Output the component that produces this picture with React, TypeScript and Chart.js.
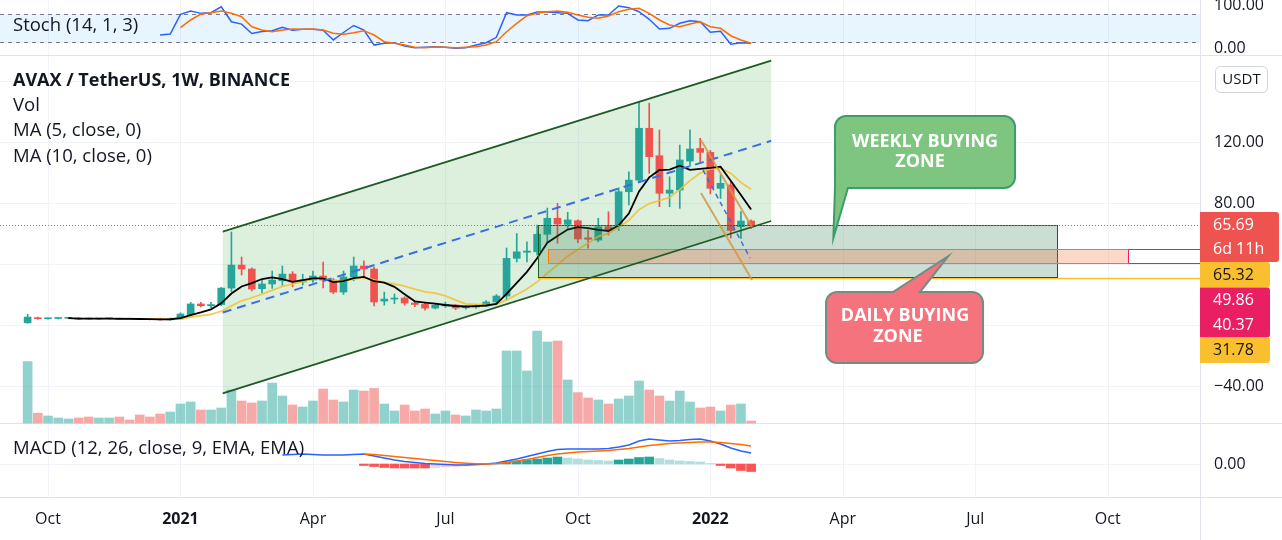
import React, { useEffect, useRef } from "react";
import { Chart, registerables } from "chart.js";

Chart.register(...registerables);

const FONT = '"Open Sans", "Noto Sans", "DejaVu Sans", sans-serif';
const TEXT = "#131722";
const UP = "#26a69a";
const DOWN = "#ef5350";

// ---------- weekly bars, index 0 = week of 21 Sep 2020 ----------
const opens = [
  1.4, 4.8, 4.1, 4.3, 4.4, 4.6, 4.2, 3.9, 4.1, 4.3,
  4.1, 4.0, 3.9, 4.2, 3.4, 4.0, 6.8, 13.8, 12.6, 13.4,
  24.2, 39.3, 36.7, 23.8, 26.9, 29.0, 33.4, 28.2, 29.5, 32.1,
  29.5, 21.6, 31.5, 38.7, 36.7, 15.7, 17.0, 17.7, 14.4, 13.5,
  11.1, 12.5, 13.1, 11.3, 11.8, 12.5, 15.1, 19.0, 43.7, 47.7,
  48.0, 59.5, 70.0, 66.0, 68.4, 57.2, 55.7, 64.5, 65.0, 87.4,
  95.0, 129.0, 111.0, 86.4, 88.5, 107.5, 115.8, 113.2, 89.6, 91.8,
  64.5, 68.2,
];
const highs = [
  7.0, 5.2, 4.6, 4.7, 4.8, 4.9, 4.5, 4.3, 4.4, 4.6,
  4.3, 4.3, 4.2, 4.5, 4.6, 8.0, 14.8, 14.8, 14.9, 24.6,
  61.0, 44.6, 37.5, 30.0, 35.4, 38.7, 35.0, 33.3, 35.4, 41.3,
  30.5, 35.4, 44.6, 42.0, 38.0, 21.6, 20.3, 18.5, 15.5, 14.4,
  14.0, 15.0, 13.6, 12.5, 13.5, 16.0, 20.0, 50.5, 60.0, 54.6,
  65.6, 76.7, 79.8, 73.9, 69.0, 62.3, 70.0, 74.3, 90.0, 100.5,
  146.4, 145.4, 127.9, 97.2, 118.0, 127.9, 122.4, 114.5, 98.4, 94.0,
  74.3, 69.0,
];
const lows = [
  1.2, 3.8, 3.8, 4.0, 4.1, 3.6, 3.7, 3.7, 3.8, 3.7,
  3.6, 3.5, 3.4, 3.1, 3.2, 3.8, 6.3, 11.8, 11.4, 12.6,
  22.0, 32.8, 22.3, 21.0, 24.0, 26.0, 25.0, 26.2, 28.0, 24.3,
  20.5, 20.0, 29.0, 31.5, 12.5, 13.0, 14.0, 13.0, 12.0, 9.8,
  10.5, 11.5, 10.0, 10.4, 10.8, 12.0, 14.0, 16.4, 41.3, 41.3,
  45.9, 54.6, 53.6, 63.4, 54.0, 50.3, 54.6, 59.0, 62.0, 78.7,
  94.0, 99.5, 77.6, 77.6, 76.5, 104.0, 107.0, 86.0, 83.0, 57.0,
  56.8, 63.4,
];
const closes = [
  5.2, 4.1, 4.3, 4.4, 4.5, 3.9, 3.9, 4.1, 4.2, 3.9,
  3.8, 3.7, 3.6, 3.4, 4.4, 7.2, 13.8, 12.6, 13.4, 24.2,
  39.3, 36.7, 23.6, 26.9, 29.5, 33.4, 28.2, 29.5, 32.1, 29.5,
  21.6, 31.5, 38.7, 36.7, 15.1, 17.0, 17.7, 14.4, 13.5, 11.1,
  13.1, 13.5, 11.1, 11.8, 12.5, 15.1, 19.0, 43.7, 48.0, 48.5,
  59.5, 70.0, 66.2, 68.9, 56.4, 56.2, 64.4, 62.3, 87.4, 95.0,
  129.0, 110.4, 86.4, 88.5, 108.2, 115.4, 113.2, 89.6, 92.9, 62.0,
  68.2, 65.69,
];
const volumes = [
  30.7, 4.9, 3.5, 2.5, 2.0, 2.5, 3.0, 2.5, 2.5, 3.0,
  1.5, 4.0, 3.0, 4.5, 5.5, 9.5, 10.5, 6.5, 6.5, 7.5,
  16.5, 11.0, 10.0, 11.0, 20.0, 13.5, 9.0, 8.0, 11.0, 17.0,
  11.5, 10.5, 16.5, 16.0, 17.3, 9.5, 6.0, 9.0, 6.0, 7.0,
  4.5, 6.0, 4.0, 3.5, 6.5, 6.0, 7.0, 36.0, 36.0, 26.0,
  46.0, 40.5, 41.0, 21.5, 15.2, 12.5, 11.5, 9.5, 12.0, 13.5,
  21.0, 16.5, 13.5, 11.0, 16.0, 10.5, 7.5, 8.0, 6.0, 9.0,
  9.5, 1.0,
];

// ---------- Stoch (14, 1, 3) ----------
const stochKStart = 13;
const stochK = [
  35.6, 37.8, 80, 87, 82, 83.4, 96, 64, 59, 39,
  43, 45, 52, 46, 48, 48, 46, 25, 41, 56,
  46, 14, 18, 19, 12, 8.4, 9.3, 10.6, 9.3, 7.1,
  8.4, 14.2, 19.1, 30.7, 83.4, 78.6, 78.6, 85, 85, 83.4,
  82, 67.8, 66.3, 78.6, 78.6, 97.8, 94.2, 85.6, 69.3, 48.5,
  50, 60.7, 66.3, 64.1, 41.4, 43.6, 15.7, 19.1, 17.8,
];
const stochDStart = 15;
const stochD = [
  51.3, 67.8, 80.6, 83.4, 87.1, 82.1, 74.9, 53.4, 46.4, 42.7,
  46.4, 48.5, 47.9, 48.5, 46.4, 39.3, 37.1, 40.6, 44.9, 35.6,
  21.3, 17.9, 14.2, 9.5, 8.4, 9.9, 9.3, 8.4, 9.3, 10.6,
  14.2, 21.3, 42.7, 60.7, 77, 82.1, 85.6, 87.1, 84.3, 78.5,
  73.6, 71.4, 76.4, 85.6, 90.7, 92.9, 82.1, 67.8, 57.1, 53.4,
  59.2, 64.1, 53.4, 50, 34.1, 24.9, 17.8,
];

// ---------- MACD (12, 26, close, 9) ----------
const macdStart = 25;
const macdLine = [
  9, 9.5, 10, 9.5, 9, 9, 9, 9.5, 10, 8,
  6, 4, 2.5, 1.5, 0.5, 0, -0.5, -1, -1, -0.5,
  0, 1, 3, 5, 7.5, 10, 12.5, 14.5, 15, 15,
  15, 15, 15.5, 17, 19, 23, 25, 24, 23, 23.5,
  24.5, 25, 23, 20, 16, 13, 11,
];
const signalStart = 33;
const signalLine = [
  10, 9.5, 8.5, 7.5, 6.5, 5.5, 4.5, 3.5, 2.5, 1.5,
  0.8, 0.3, 0, 0.5, 1.5, 3, 4.5, 6.5, 8.5, 10,
  11, 12, 12.5, 13, 13.5, 14.5, 15.5, 17, 18.5, 19.5,
  20.5, 21, 21.5, 22, 22, 21.5, 20.5, 19.5, 18,
];
const histStart = 33;
const macdHist = [
  -1.5, -2.5, -3.5, -4, -4, -4, -4, -3.5, -3, -2.5,
  -2, -1.5, -1, 0.5, 2, 3, 4, 5, 6, 7,
  6, 5, 4, 3.5, 3, 4, 5, 6.5, 7, 5.5,
  4, 3, 2.5, 2, 0.5, -1.5, -4, -6.5, -7.5,
];

// ---------- axes ----------
const timeTicks = [2, 15, 28, 41, 54, 67, 80, 93, 106];
const timeLabels = ["Oct", "2021", "Apr", "Jul", "Oct", "2022", "Apr", "Jul", "Oct"];
const yearLabels = ["2021", "2022"];
const priceGrid = [160, 120, 80, 40, 0, -40];
const priceTicks = [120, 80, -40];
const stochTicks = [100, 0];
const macdTicks = [0];

// ---------- levels / drawings (bar index, price) ----------
const lastPrice = 65.69;
const barCountdown = "6d 11h";
const weeklyZone = { x1: 50.09, x2: 101.0, top: 65.32, bottom: 31.78 };
const dailyZone = { x1: 51.07, x2: 108.0, top: 49.86, bottom: 40.37 };
const orangeLevelStart = 38.5;
const channelUpper = [[19.15, 61.2], [72.97, 173.4]];
const channelLower = [[19.15, -44.8], [72.97, 68.2]];
const channelMid = [[19.15, 8.2], [72.97, 120.8]];
const fallUpper = [[66.08, 121.3], [71.09, 64.3]];
const fallLower = [[66.08, 86.6], [71.09, 29.5]];
const fallMid = [[66.28, 101.6], [70.9, 43.9]];

const weeklyCallout = {
  box: [79.23, 96.9, 137.0, 89.8],
  tail: [79.23, 80.5, 79.07, 57.0],
  lines: [["WEEKLY BUYING", 88.07, 120.2], ["ZONE", 87.58, 107.1]],
};
const dailyCallout = {
  box: [78.35, 93.76, 21.6, -24.9],
  tail: [84.92, 87.57, 90.35, 45.2],
  lines: [["DAILY BUYING", 86.1, 5.9], ["ZONE", 85.4, -7.9]],
};

// ---------- helpers ----------
const idx = opens.map((_, i) => i);
const isUp = (i: number) => closes[i] >= opens[i];
const candleColors = idx.map((i) => (isUp(i) ? UP : DOWN));
const volColors = idx.map((i) => (isUp(i) ? "rgba(38,166,154,0.5)" : "rgba(239,83,80,0.5)"));
const histColors = macdHist.map((v, k) => {
  const prev = k > 0 ? macdHist[k - 1] : v;
  if (v >= 0) return v > prev ? "#26a69a" : "#b2dfdb";
  return v <= prev ? "#ff5252" : "#ffcdd2";
});

function sma(src: number[], n: number) {
  const out: { x: number; y: number }[] = [];
  for (let i = n - 1; i < src.length; i++) {
    let s = 0;
    for (let k = i - n + 1; k <= i; k++) s += src[k];
    out.push({ x: i, y: s / n });
  }
  return out;
}
const series = (arr: number[], start: number) => arr.map((v, k) => ({ x: start + k, y: v }));

function seg(ctx: CanvasRenderingContext2D, x1: number, y1: number, x2: number, y2: number, color: string, width = 1, dash: number[] = []) {
  ctx.save();
  ctx.beginPath();
  ctx.strokeStyle = color;
  ctx.lineWidth = width;
  ctx.setLineDash(dash);
  ctx.moveTo(x1, y1);
  ctx.lineTo(x2, y2);
  ctx.stroke();
  ctx.restore();
}

function calloutPath(ctx: CanvasRenderingContext2D, L: number, R: number, T: number, B: number, r: number, b1: number, b2: number, tx: number, ty: number, top: boolean) {
  ctx.beginPath();
  if (top) {
    ctx.moveTo(L + r, T);
    ctx.lineTo(b1, T);
    ctx.lineTo(tx, ty);
    ctx.lineTo(b2, T);
    ctx.lineTo(R - r, T);
    ctx.arcTo(R, T, R, T + r, r);
    ctx.lineTo(R, B - r);
    ctx.arcTo(R, B, R - r, B, r);
    ctx.lineTo(L + r, B);
    ctx.arcTo(L, B, L, B - r, r);
    ctx.lineTo(L, T + r);
    ctx.arcTo(L, T, L + r, T, r);
  } else {
    ctx.moveTo(L + r, T);
    ctx.lineTo(R - r, T);
    ctx.arcTo(R, T, R, T + r, r);
    ctx.lineTo(R, B - r);
    ctx.arcTo(R, B, R - r, B, r);
    ctx.lineTo(b2, B);
    ctx.lineTo(tx, ty);
    ctx.lineTo(b1, B);
    if (b1 > L + r) {
      ctx.lineTo(L + r, B);
      ctx.arcTo(L, B, L, B - r, r);
    }
    ctx.lineTo(L, T + r);
    ctx.arcTo(L, T, L + r, T, r);
  }
  ctx.closePath();
}

const tvPlugin = {
  id: "tvPanes",
  beforeDraw(chart: any) {
    const ctx = chart.ctx;
    ctx.save();
    ctx.fillStyle = "#ffffff";
    ctx.fillRect(0, 0, chart.width, chart.height);
    ctx.restore();
  },
  beforeDatasetsDraw(chart: any) {
    const { ctx, chartArea: a, scales } = chart;
    const X = (v: number) => scales.x.getPixelForValue(v);
    const P = (v: number) => scales.yPrice.getPixelForValue(v);
    const S = (v: number) => scales.yStoch.getPixelForValue(v);
    const M = (v: number) => scales.yMacd.getPixelForValue(v);
    const grid = "#f0f3fa";
    timeTicks.forEach((t) => {
      const x = Math.round(X(t)) + 0.5;
      seg(ctx, x, a.top, x, a.bottom, grid);
    });
    priceGrid.forEach((v) => {
      const y = Math.round(P(v)) + 0.5;
      seg(ctx, a.left, y, a.right, y, grid);
    });
    macdTicks.forEach((v) => {
      const y = Math.round(M(v)) + 0.5;
      seg(ctx, a.left, y, a.right, y, grid);
    });
    // stoch band
    ctx.save();
    ctx.fillStyle = "rgba(33,150,243,0.1)";
    ctx.fillRect(a.left, S(80), a.right - a.left, S(20) - S(80));
    ctx.restore();
    seg(ctx, a.left, Math.round(S(80)) + 0.5, a.right, Math.round(S(80)) + 0.5, "#787b86", 1, [4, 4]);
    seg(ctx, a.left, Math.round(S(20)) + 0.5, a.right, Math.round(S(20)) + 0.5, "#787b86", 1, [4, 4]);
    // channel fill
    ctx.save();
    ctx.beginPath();
    ctx.moveTo(X(channelUpper[0][0]), P(channelUpper[0][1]));
    ctx.lineTo(X(channelUpper[1][0]), P(channelUpper[1][1]));
    ctx.lineTo(X(channelLower[1][0]), P(channelLower[1][1]));
    ctx.lineTo(X(channelLower[0][0]), P(channelLower[0][1]));
    ctx.closePath();
    ctx.fillStyle = "rgba(76,175,80,0.19)";
    ctx.fill();
    ctx.restore();
    // pane separators
    const sep = "#e0e3eb";
    [scales.yStoch.bottom, scales.yPrice.bottom, a.bottom].forEach((y: number) => {
      const yy = Math.round(y) + 0.5;
      seg(ctx, 0, yy, chart.width, yy, sep);
    });
    seg(ctx, Math.round(a.right) + 0.5, 0, Math.round(a.right) + 0.5, chart.height, sep);
  },
  afterDatasetsDraw(chart: any) {
    const { ctx, chartArea: a, scales } = chart;
    const X = (v: number) => scales.x.getPixelForValue(v);
    const P = (v: number) => scales.yPrice.getPixelForValue(v);
    const S = (v: number) => scales.yStoch.getPixelForValue(v);
    const M = (v: number) => scales.yMacd.getPixelForValue(v);

    // yellow level + weekly zone
    const yl = Math.round(P(weeklyZone.bottom)) + 0.5;
    seg(ctx, X(weeklyZone.x1), yl + 1, a.right, yl + 1, "#fbc02d", 1.5);
    ctx.save();
    const wx1 = Math.round(X(weeklyZone.x1)) + 0.5, wx2 = Math.round(X(weeklyZone.x2)) + 0.5;
    const wy1 = Math.round(P(weeklyZone.top)) + 0.5, wy2 = Math.round(P(weeklyZone.bottom)) + 0.5;
    ctx.fillStyle = "rgba(46,125,80,0.25)";
    ctx.fillRect(wx1, wy1, wx2 - wx1, wy2 - wy1);
    ctx.strokeStyle = "#1b5e20";
    ctx.lineWidth = 1;
    ctx.strokeRect(wx1, wy1, wx2 - wx1, wy2 - wy1);
    // daily zone
    const dx1 = Math.round(X(dailyZone.x1)) + 0.5, dx2 = Math.round(X(dailyZone.x2)) + 0.5;
    const dy1 = Math.round(P(dailyZone.top)) + 0.5, dy2 = Math.round(P(dailyZone.bottom)) + 0.5;
    ctx.fillStyle = "rgba(242,100,40,0.25)";
    ctx.fillRect(dx1, dy1, dx2 - dx1, dy2 - dy1);
    ctx.restore();
    seg(ctx, dx1, dy1, dx2, dy1, "#f57c00", 1.2);
    seg(ctx, dx1, dy2, dx2, dy2, "#f57c00", 1.2);
    seg(ctx, dx1, dy1, dx1, dy2, "#f57c00", 1);
    seg(ctx, dx2, dy1, dx2, dy2, "#e91e63", 1);
    seg(ctx, dx2, dy1, a.right, dy1, "#e91e63", 1);
    seg(ctx, dx2, dy2, a.right, dy2, "#e91e63", 1);
    // price lines
    const yo = Math.round(P(weeklyZone.top)) + 0.5;
    seg(ctx, X(orangeLevelStart), yo, a.right, yo, "#ff9800", 1, [1, 2]);
    const yr = Math.round(P(lastPrice)) + 0.5;
    seg(ctx, a.left, yr, a.right, yr, "#ef5350", 1, [1, 2]);

    // channel
    const line2 = (pts: number[][], color: string, w: number, dash: number[] = []) =>
      seg(ctx, X(pts[0][0]), P(pts[0][1]), X(pts[1][0]), P(pts[1][1]), color, w, dash);
    line2(channelUpper, "#1e5a24", 1.8);
    line2(channelLower, "#1e5a24", 1.8);
    line2(channelMid, "#3b6ee0", 2, [9, 6]);
    line2(fallUpper, "rgba(214,150,70,0.85)", 2);
    line2(fallLower, "rgba(214,150,70,0.85)", 2);
    line2(fallMid, "#3b6ee0", 1.5, [5, 4]);

    // callouts
    const drawCallout = (c: any, top: boolean, fill: string, stroke: string) => {
      const [l, r, t, b] = c.box;
      const [b1, b2, tx, ty] = c.tail;
      ctx.save();
      calloutPath(ctx, X(l), X(r), P(t), P(b), 11, X(b1), X(b2), X(tx), P(ty), top);
      ctx.fillStyle = fill;
      ctx.fill();
      ctx.lineWidth = 2;
      ctx.strokeStyle = stroke;
      ctx.stroke();
      ctx.fillStyle = "#ffffff";
      ctx.font = `bold 18px ${FONT}`;
      ctx.textAlign = "center";
      ctx.textBaseline = "middle";
      c.lines.forEach((ln: any) => ctx.fillText(ln[0], X(ln[1]), P(ln[2])));
      ctx.restore();
    };
    drawCallout(weeklyCallout, false, "#7ec67f", "#3e9b6a");
    drawCallout(dailyCallout, true, "#f5737c", "#6f8f86");

    // legends
    ctx.save();
    ctx.fillStyle = TEXT;
    ctx.textBaseline = "middle";
    ctx.textAlign = "left";
    ctx.font = `18.5px ${FONT}`;
    ctx.fillText("Stoch (14, 1, 3)", 13, 26);
    ctx.font = `bold 18px ${FONT}`;
    ctx.fillText("AVAX / TetherUS, 1W, BINANCE", 13, 81);
    ctx.font = `18.5px ${FONT}`;
    ctx.fillText("Vol", 13, 106);
    ctx.fillText("MA (5, close, 0)", 13, 131);
    ctx.fillText("MA (10, close, 0)", 13, 157);
    ctx.fillText("MACD (12, 26, close, 9, EMA, EMA)", 13, 449);

    // right axis ticks
    const ax = a.right + 14;
    ctx.font = `16px ${FONT}`;
    stochTicks.forEach((v) => ctx.fillText(v.toFixed(2), ax, Math.min(S(v), scales.yStoch.bottom - 7)));
    priceTicks.forEach((v) => ctx.fillText((v < 0 ? "\u2212" + Math.abs(v).toFixed(2) : v.toFixed(2)), ax, P(v)));
    macdTicks.forEach((v) => ctx.fillText(v.toFixed(2), ax, M(v)));

    // USDT badge
    ctx.save();
    ctx.beginPath();
    (ctx as any).roundRect(a.right + 15.5, 66.5, 52, 26, 5);
    ctx.fillStyle = "#ffffff";
    ctx.fill();
    ctx.strokeStyle = "#d1d4dc";
    ctx.lineWidth = 1;
    ctx.stroke();
    ctx.restore();
    ctx.textAlign = "center";
    ctx.font = `15px ${FONT}`;
    ctx.fillText("USDT", a.right + 41.5, 80);

    // price tags
    const tags = [
      { lines: [lastPrice.toFixed(2), barCountdown], bg: DOWN, fg: "#ffffff", w: 79 },
      { lines: [weeklyZone.top.toFixed(2)], bg: "#f9bf2e", fg: TEXT, w: 70 },
      { lines: [dailyZone.top.toFixed(2), dailyZone.bottom.toFixed(2)], bg: "#e91e63", fg: "#ffffff", w: 70 },
      { lines: [weeklyZone.bottom.toFixed(2)], bg: "#f9bf2e", fg: TEXT, w: 70 },
    ];
    let ty = Math.round(P(lastPrice)) - 13;
    const lh = 24.5;
    ctx.textAlign = "left";
    ctx.font = `16px ${FONT}`;
    tags.forEach((tg) => {
      const h = tg.lines.length * lh + 1;
      ctx.save();
      ctx.beginPath();
      (ctx as any).roundRect(a.right, ty, tg.w, h, [0, 3, 3, 0]);
      ctx.fillStyle = tg.bg;
      ctx.fill();
      ctx.restore();
      ctx.fillStyle = tg.fg;
      tg.lines.forEach((t, k) => ctx.fillText(t, a.right + 13, ty + 13 + k * lh));
      ty += h;
    });

    // time axis
    ctx.fillStyle = TEXT;
    ctx.textAlign = "center";
    timeTicks.forEach((t, k) => {
      const lbl = timeLabels[k];
      ctx.font = `${yearLabels.includes(lbl) ? "bold " : ""}16px ${FONT}`;
      ctx.fillText(lbl, X(t), 519);
    });
    ctx.restore();
  },
};

export default function App() {
  const ref = useRef<HTMLCanvasElement>(null);
  useEffect(() => {
    document.body.style.margin = "0";
    const canvas = ref.current;
    if (!canvas) return;
    const chart = new Chart(canvas, {
      type: "bar",
      data: {
        datasets: [
          { type: "bar", label: "Vol", data: volumes.map((v, i) => ({ x: i, y: v })), yAxisID: "yVol", backgroundColor: volColors, barThickness: 9, grouped: false, order: 20 } as any,
          { type: "bar", label: "Wick", data: idx.map((i) => ({ x: i, y: [lows[i], highs[i]] })), yAxisID: "yPrice", backgroundColor: candleColors, barThickness: 1, minBarLength: 1, grouped: false, order: 12 } as any,
          { type: "bar", label: "Body", data: idx.map((i) => ({ x: i, y: [opens[i], closes[i]] })), yAxisID: "yPrice", backgroundColor: candleColors, barThickness: 7, minBarLength: 1, grouped: false, order: 11 } as any,
          { type: "line", label: "MA 10", data: sma(closes, 10), yAxisID: "yPrice", borderColor: "rgba(245,192,50,0.85)", borderWidth: 1.8, pointRadius: 0, order: 9 } as any,
          { type: "line", label: "MA 5", data: sma(closes, 5), yAxisID: "yPrice", borderColor: "#000000", borderWidth: 1.8, pointRadius: 0, order: 8 } as any,
          { type: "bar", label: "Histogram", data: series(macdHist, histStart), yAxisID: "yMacd", backgroundColor: histColors, barThickness: 9, grouped: false, order: 7 } as any,
          { type: "line", label: "%K", data: series(stochK, stochKStart), yAxisID: "yStoch", borderColor: "#2962ff", borderWidth: 1.5, pointRadius: 0, order: 6 } as any,
          { type: "line", label: "%D", data: series(stochD, stochDStart), yAxisID: "yStoch", borderColor: "#ff6d00", borderWidth: 1.5, pointRadius: 0, order: 5 } as any,
          { type: "line", label: "MACD", data: series(macdLine, macdStart), yAxisID: "yMacd", borderColor: "#2962ff", borderWidth: 1.5, pointRadius: 0, order: 4 } as any,
          { type: "line", label: "Signal", data: series(signalLine, signalStart), yAxisID: "yMacd", borderColor: "#ff6d00", borderWidth: 1.5, pointRadius: 0, order: 3 } as any,
        ],
      },
      options: {
        responsive: false,
        animation: false,
        devicePixelRatio: 1,
        events: [],
        layout: { autoPadding: false, padding: { left: 0, top: 0, right: 82, bottom: 43 } },
        plugins: { legend: { display: false }, tooltip: { enabled: false } },
        scales: {
          x: { type: "linear", min: -2.71, max: 115.05, offset: false, display: false },
          yStoch: { type: "linear", position: "right", stack: "panes", stackWeight: 55, weight: 1, min: -7.2, max: 110.64, display: false },
          yPrice: { type: "linear", position: "right", stack: "panes", stackWeight: 368, weight: 2, min: -64.26, max: 177.05, display: false },
          yMacd: { type: "linear", position: "right", stack: "panes", stackWeight: 74, weight: 3, min: -33, max: 41, display: false },
          yVol: { type: "linear", position: "right", weight: 4, min: -37, max: 211.5, display: false },
        },
      } as any,
      plugins: [tvPlugin as any],
    });
    return () => chart.destroy();
  }, []);
  return (
    <div style={{ width: 1282, height: 540, overflow: "hidden", background: "#fff" }}>
      <canvas ref={ref} width={1282} height={540} style={{ display: "block" }} />
    </div>
  );
}
